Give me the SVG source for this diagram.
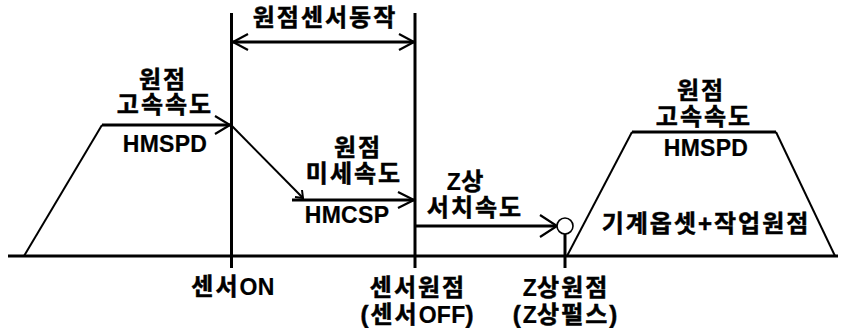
<svg xmlns="http://www.w3.org/2000/svg" width="841" height="328" viewBox="0 0 841 328">
<style>
text{font-family:"Liberation Sans","Noto Sans CJK KR",sans-serif;font-size:24px;font-weight:700;fill:#000;stroke:#000;stroke-width:0.5;text-anchor:middle;letter-spacing:2px}
.e{font-size:23px;letter-spacing:0.3px;stroke-width:0.2}
.l{fill:none;stroke:#000;stroke-width:3;stroke-linecap:butt}
.t{fill:none;stroke:#000;stroke-width:2}
.h{fill:none;stroke:#000;stroke-width:2.2;stroke-linejoin:miter}
</style>
<rect width="841" height="328" fill="#fff"/>
<g id="connectors">
  <line class="l" x1="8" y1="256" x2="838" y2="256"/>
  <line class="l" x1="231.5" y1="13" x2="231.5" y2="268"/>
  <line class="l" x1="415" y1="13" x2="415" y2="268"/>
  <line class="l" x1="565" y1="234" x2="565" y2="268"/>
  <line class="l" x1="233" y1="42" x2="414" y2="42"/>
  <polyline class="h" points="248,34 233,42 248,50"/>
  <polyline class="h" points="399,34 414,42 399,50"/>
  <polyline class="t" points="24,256 102,125"/>
  <line class="l" x1="102" y1="125" x2="230" y2="125"/>
  <polyline class="h" points="215,116 230,125 215,134"/>
  <line class="t" x1="231" y1="125" x2="303" y2="198"/>
  <polyline class="t" points="302,190 303,198 295,197"/>
  <line class="l" x1="292" y1="200" x2="414" y2="200"/>
  <polyline class="h" points="398,192 414,200 398,208"/>
  <line class="l" x1="415" y1="226" x2="556" y2="226"/>
  <polyline class="h" points="540,215 557,226 540,237"/>
  <circle cx="565" cy="226" r="8" fill="#fff" stroke="#000" stroke-width="1.6"/>
  <polyline class="t" points="567,256 632,132"/>
  <line class="l" x1="632" y1="132" x2="776" y2="132"/>
  <polyline class="t" points="776,132 835,256"/>
</g>
<g id="sensor-range"><text x="325" y="26">원점센서동작</text></g>
<g id="high-speed-left">
  <text x="163" y="88">원점</text>
  <text x="165" y="113">고속속도</text>
  <text class="e" x="165" y="152">HMSPD</text>
</g>
<g id="creep-speed">
  <text x="358" y="156">원점</text>
  <text x="354" y="182">미세속도</text>
  <text class="e" x="347" y="223">HMCSP</text>
</g>
<g id="z-search">
  <text x="466" y="190"><tspan class="e">Z</tspan>상</text>
  <text x="475" y="216">서치속도</text>
</g>
<g id="high-speed-right">
  <text x="701" y="99">원점</text>
  <text x="704" y="125">고속속도</text>
  <text class="e" x="706" y="156">HMSPD</text>
  <text x="706" y="232">기계옵셋+작업원점</text>
</g>
<g id="sensor-on"><text x="233" y="295">센서<tspan class="e">ON</tspan></text></g>
<g id="sensor-origin">
  <text x="418" y="296">센서원점</text>
  <text x="418" y="323">(센서<tspan class="e">OFF</tspan>)</text>
</g>
<g id="z-origin">
  <text x="566" y="296"><tspan class="e">Z</tspan>상원점</text>
  <text x="566" y="323">(<tspan class="e">Z</tspan>상펄스)</text>
</g>
</svg>
